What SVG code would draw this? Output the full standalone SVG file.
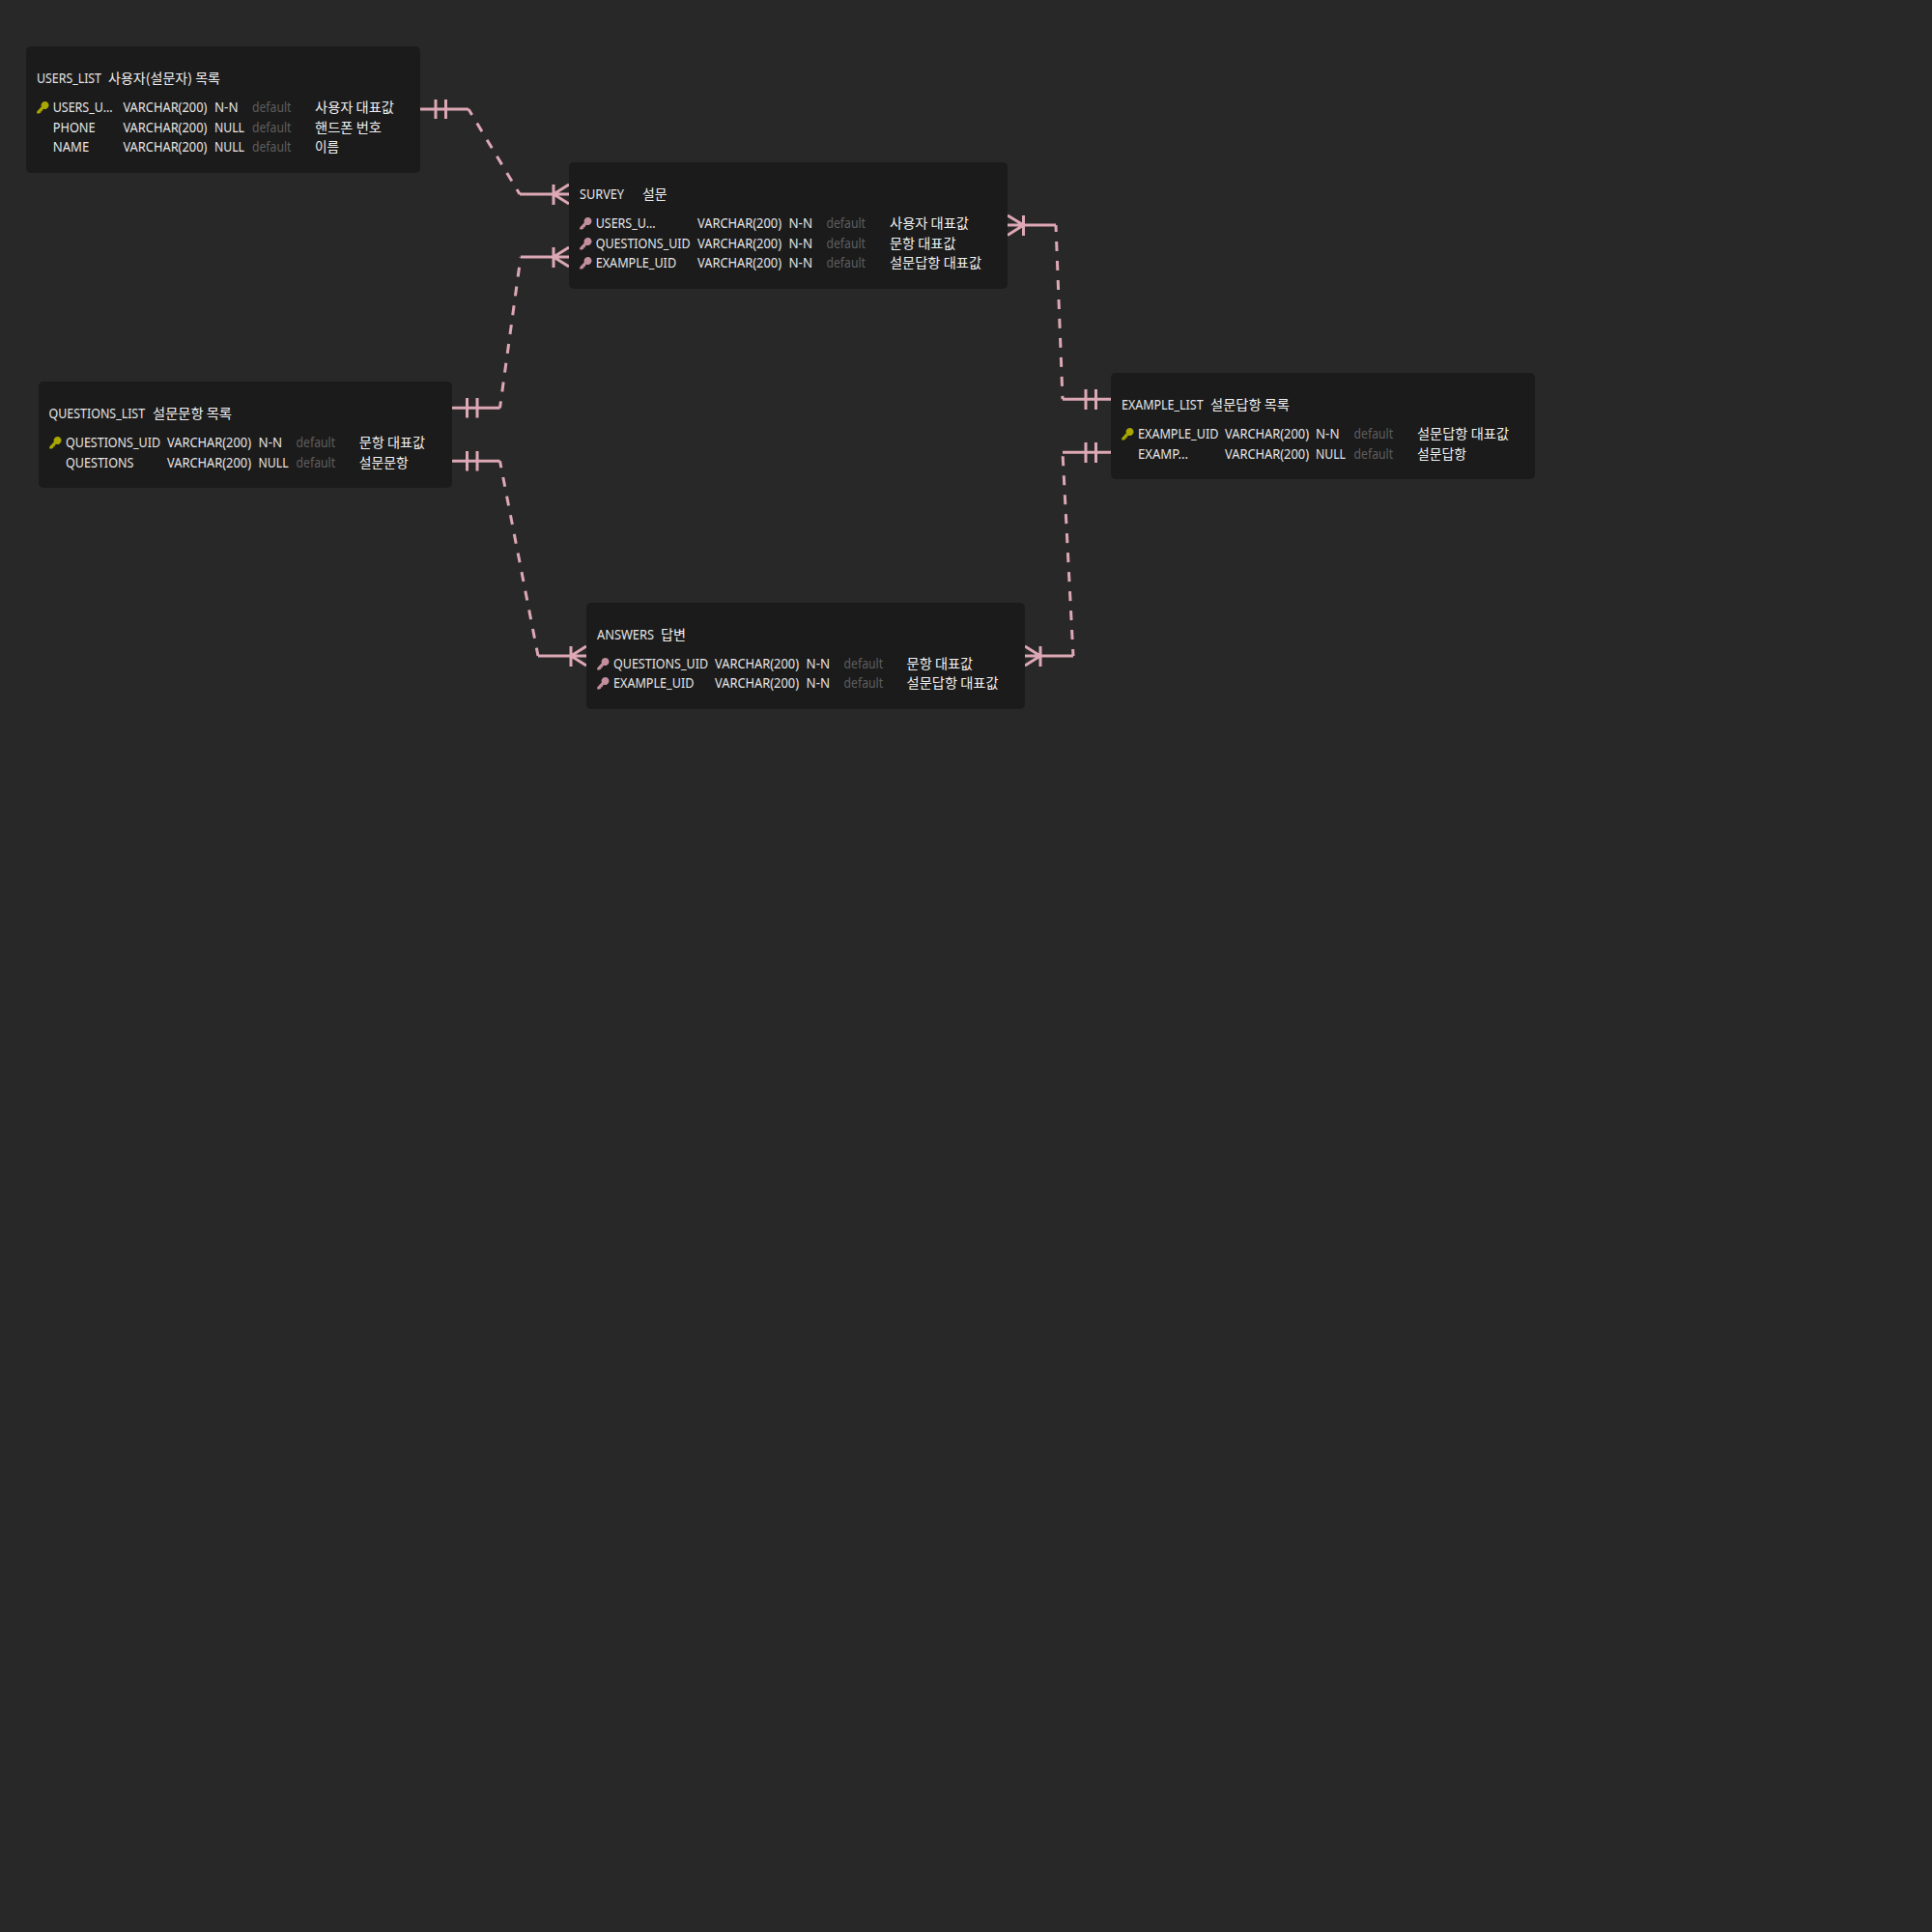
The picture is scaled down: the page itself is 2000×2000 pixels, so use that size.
<svg xmlns="http://www.w3.org/2000/svg" width="2000" height="2000" viewBox="0 0 2000 2000">
<style>
text{font-family:"Noto Sans","Noto Sans CJK KR",sans-serif;font-size:13.500px;fill:#e6e6e6}
.k{font-family:"Noto Sans CJK KR","Noto Sans",sans-serif;font-size:14px;fill:#f0f0f0}
.d{fill:#5e5e5e}
.box{fill:#1b1b1b}
.s{fill:none;stroke:#dda8b5;stroke-width:3}
.dash{fill:none;stroke:#dda8b5;stroke-width:3;stroke-dasharray:10 10}
</style>
<defs>
<path id="key" d="M8.500 0a4 4 0 1 1-1.500 7.700L5.800 9 5.800 10.300 4.200 10.300 4.200 11.800 2.200 12.600 0.200 12.600 0.200 10.500 4.800 5.400A4 4 0 0 1 8.500 0Z"/>
</defs>
<rect width="2000" height="2000" fill="#282828"/>
<g id="connectors">
<path class="s" d="M435 113H485M451 103V123M461.500 103V123M538 201H589M573 191V212M573 201L589 191M573 201L589 211"/>
<path class="dash" d="M485 113L538 201" stroke-dashoffset="3"/>
<path class="s" d="M468 422.300H517.500M483.500 412V432.500M494 412V432.500M539 266H589M573 256V277M573 266L589 256M573 266L589 276"/>
<path class="dash" d="M517.500 422.300L539 266" stroke-dashoffset="3"/>
<path class="s" d="M468 477.300H517.500M483.500 467V487.500M494 467V487.500M557 679H607M591 669V690M591 679L607 669M591 679L607 689"/>
<path class="dash" d="M517.500 477.300L557 679" stroke-dashoffset="3"/>
<path class="s" d="M1043 233H1093M1059.500 223V244M1059.500 233L1043 223M1059.500 233L1043 243.500M1100 413.300H1150M1124 403V424M1134.500 403V424"/>
<path class="dash" d="M1093 233L1100 413.300" stroke-dashoffset="3"/>
<path class="s" d="M1061 679H1111M1077 669V690M1077 679L1061 669M1077 679L1061 689M1100 468.300H1150M1124 458V479M1134.500 458V479"/>
<path class="dash" d="M1111 679L1100 468.300" stroke-dashoffset="3"/>
</g>
<g id="USERS_LIST">
<rect class="box" x="27" y="48" width="408" height="131" rx="5"/>
<text x="38" y="86" textLength="67" lengthAdjust="spacingAndGlyphs">USERS_LIST</text>
<text class="k" x="112" y="85.500" textLength="116" lengthAdjust="spacingAndGlyphs">사용자(설문자) 목록</text>
<use href="#key" x="38" y="105" fill="#a8a800"/>
<text x="54.700" y="116" textLength="62" lengthAdjust="spacingAndGlyphs">USERS_U...</text>
<text x="127.400" y="116" textLength="87" lengthAdjust="spacingAndGlyphs">VARCHAR(200)</text>
<text x="222" y="116" textLength="24.500" lengthAdjust="spacingAndGlyphs">N-N</text>
<text class="d" x="261" y="116" textLength="40.500" lengthAdjust="spacingAndGlyphs">default</text>
<text class="k" x="326" y="116" textLength="82" lengthAdjust="spacingAndGlyphs">사용자 대표값</text>
<text x="54.700" y="136.500" textLength="44" lengthAdjust="spacingAndGlyphs">PHONE</text>
<text x="127.400" y="136.500" textLength="87" lengthAdjust="spacingAndGlyphs">VARCHAR(200)</text>
<text x="222" y="136.500" textLength="31" lengthAdjust="spacingAndGlyphs">NULL</text>
<text class="d" x="261" y="136.500" textLength="40.500" lengthAdjust="spacingAndGlyphs">default</text>
<text class="k" x="326" y="136.500" textLength="69" lengthAdjust="spacingAndGlyphs">핸드폰 번호</text>
<text x="54.700" y="157" textLength="37.500" lengthAdjust="spacingAndGlyphs">NAME</text>
<text x="127.400" y="157" textLength="87" lengthAdjust="spacingAndGlyphs">VARCHAR(200)</text>
<text x="222" y="157" textLength="31" lengthAdjust="spacingAndGlyphs">NULL</text>
<text class="d" x="261" y="157" textLength="40.500" lengthAdjust="spacingAndGlyphs">default</text>
<text class="k" x="326" y="157" textLength="25" lengthAdjust="spacingAndGlyphs">이름</text>
</g>
<g id="SURVEY">
<rect class="box" x="589" y="168" width="454" height="131" rx="5"/>
<text x="600" y="206" textLength="46" lengthAdjust="spacingAndGlyphs">SURVEY</text>
<text class="k" x="665" y="205.500" textLength="25.600" lengthAdjust="spacingAndGlyphs">설문</text>
<use href="#key" x="600" y="225" fill="#c48f9d"/>
<text x="616.700" y="236" textLength="62" lengthAdjust="spacingAndGlyphs">USERS_U...</text>
<text x="722" y="236" textLength="87" lengthAdjust="spacingAndGlyphs">VARCHAR(200)</text>
<text x="816.500" y="236" textLength="24.500" lengthAdjust="spacingAndGlyphs">N-N</text>
<text class="d" x="855.500" y="236" textLength="40.500" lengthAdjust="spacingAndGlyphs">default</text>
<text class="k" x="921" y="236" textLength="82" lengthAdjust="spacingAndGlyphs">사용자 대표값</text>
<use href="#key" x="600" y="246" fill="#c48f9d"/>
<text x="616.700" y="256.500" textLength="98" lengthAdjust="spacingAndGlyphs">QUESTIONS_UID</text>
<text x="722" y="256.500" textLength="87" lengthAdjust="spacingAndGlyphs">VARCHAR(200)</text>
<text x="816.500" y="256.500" textLength="24.500" lengthAdjust="spacingAndGlyphs">N-N</text>
<text class="d" x="855.500" y="256.500" textLength="40.500" lengthAdjust="spacingAndGlyphs">default</text>
<text class="k" x="921" y="256.500" textLength="68.500" lengthAdjust="spacingAndGlyphs">문항 대표값</text>
<use href="#key" x="600" y="266" fill="#c48f9d"/>
<text x="616.700" y="277" textLength="83.400" lengthAdjust="spacingAndGlyphs">EXAMPLE_UID</text>
<text x="722" y="277" textLength="87" lengthAdjust="spacingAndGlyphs">VARCHAR(200)</text>
<text x="816.500" y="277" textLength="24.500" lengthAdjust="spacingAndGlyphs">N-N</text>
<text class="d" x="855.500" y="277" textLength="40.500" lengthAdjust="spacingAndGlyphs">default</text>
<text class="k" x="921" y="277" textLength="95" lengthAdjust="spacingAndGlyphs">설문답항 대표값</text>
</g>
<g id="EXAMPLE_LIST">
<rect class="box" x="1150" y="386" width="439" height="110" rx="5"/>
<text x="1161" y="424" textLength="84.600" lengthAdjust="spacingAndGlyphs">EXAMPLE_LIST</text>
<text class="k" x="1253" y="423.500" textLength="82" lengthAdjust="spacingAndGlyphs">설문답항 목록</text>
<use href="#key" x="1161" y="443" fill="#a8a800"/>
<text x="1178" y="454" textLength="83.400" lengthAdjust="spacingAndGlyphs">EXAMPLE_UID</text>
<text x="1268" y="454" textLength="87" lengthAdjust="spacingAndGlyphs">VARCHAR(200)</text>
<text x="1362" y="454" textLength="24.500" lengthAdjust="spacingAndGlyphs">N-N</text>
<text class="d" x="1401.600" y="454" textLength="40.500" lengthAdjust="spacingAndGlyphs">default</text>
<text class="k" x="1467" y="454" textLength="95" lengthAdjust="spacingAndGlyphs">설문답항 대표값</text>
<text x="1178" y="475" textLength="52" lengthAdjust="spacingAndGlyphs">EXAMP...</text>
<text x="1268" y="475" textLength="87" lengthAdjust="spacingAndGlyphs">VARCHAR(200)</text>
<text x="1362" y="475" textLength="31" lengthAdjust="spacingAndGlyphs">NULL</text>
<text class="d" x="1401.600" y="475" textLength="40.500" lengthAdjust="spacingAndGlyphs">default</text>
<text class="k" x="1467" y="475" textLength="51" lengthAdjust="spacingAndGlyphs">설문답항</text>
</g>
<g id="QUESTIONS_LIST">
<rect class="box" x="40" y="395" width="428" height="110" rx="5"/>
<text x="50.600" y="433" textLength="99.500" lengthAdjust="spacingAndGlyphs">QUESTIONS_LIST</text>
<text class="k" x="158" y="432.500" textLength="82" lengthAdjust="spacingAndGlyphs">설문문항 목록</text>
<use href="#key" x="51" y="452" fill="#a8a800"/>
<text x="68" y="463" textLength="98" lengthAdjust="spacingAndGlyphs">QUESTIONS_UID</text>
<text x="173" y="463" textLength="87" lengthAdjust="spacingAndGlyphs">VARCHAR(200)</text>
<text x="267.600" y="463" textLength="24.500" lengthAdjust="spacingAndGlyphs">N-N</text>
<text class="d" x="306.600" y="463" textLength="40.500" lengthAdjust="spacingAndGlyphs">default</text>
<text class="k" x="371.700" y="463" textLength="68.500" lengthAdjust="spacingAndGlyphs">문항 대표값</text>
<text x="68" y="483.500" textLength="70.400" lengthAdjust="spacingAndGlyphs">QUESTIONS</text>
<text x="173" y="483.500" textLength="87" lengthAdjust="spacingAndGlyphs">VARCHAR(200)</text>
<text x="267.600" y="483.500" textLength="31" lengthAdjust="spacingAndGlyphs">NULL</text>
<text class="d" x="306.600" y="483.500" textLength="40.500" lengthAdjust="spacingAndGlyphs">default</text>
<text class="k" x="371.700" y="483.500" textLength="51" lengthAdjust="spacingAndGlyphs">설문문항</text>
</g>
<g id="ANSWERS">
<rect class="box" x="607" y="624" width="454" height="110" rx="5"/>
<text x="618" y="662" textLength="59" lengthAdjust="spacingAndGlyphs">ANSWERS</text>
<text class="k" x="684" y="661.500" textLength="26" lengthAdjust="spacingAndGlyphs">답변</text>
<use href="#key" x="618" y="681" fill="#c48f9d"/>
<text x="635" y="691.500" textLength="98" lengthAdjust="spacingAndGlyphs">QUESTIONS_UID</text>
<text x="740" y="691.500" textLength="87" lengthAdjust="spacingAndGlyphs">VARCHAR(200)</text>
<text x="834.600" y="691.500" textLength="24.500" lengthAdjust="spacingAndGlyphs">N-N</text>
<text class="d" x="873.600" y="691.500" textLength="40.500" lengthAdjust="spacingAndGlyphs">default</text>
<text class="k" x="938.600" y="691.500" textLength="68.500" lengthAdjust="spacingAndGlyphs">문항 대표값</text>
<use href="#key" x="618" y="701" fill="#c48f9d"/>
<text x="635" y="712" textLength="83.400" lengthAdjust="spacingAndGlyphs">EXAMPLE_UID</text>
<text x="740" y="712" textLength="87" lengthAdjust="spacingAndGlyphs">VARCHAR(200)</text>
<text x="834.600" y="712" textLength="24.500" lengthAdjust="spacingAndGlyphs">N-N</text>
<text class="d" x="873.600" y="712" textLength="40.500" lengthAdjust="spacingAndGlyphs">default</text>
<text class="k" x="938.600" y="712" textLength="95" lengthAdjust="spacingAndGlyphs">설문답항 대표값</text>
</g>
</svg>
